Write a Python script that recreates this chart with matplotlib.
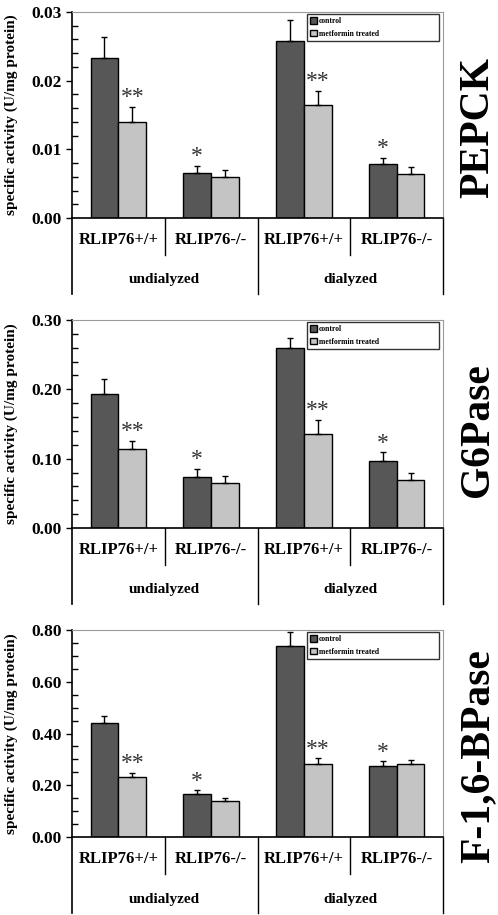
import numpy as np
import matplotlib
matplotlib.use("Agg")
import matplotlib.pyplot as plt
import matplotlib.transforms as mtransforms

plt.rcParams['font.family'] = ['Liberation Serif', 'DejaVu Serif']

# data
categories = ["RLIP76+/+", "RLIP76-/-", "RLIP76+/+", "RLIP76-/-"]
groups = ["undialyzed", "dialyzed"]
series = ["control", "metformin treated"]
enzymes = ["PEPCK", "G6Pase", "F-1,6-BPase"]

pepck_control = [0.0233, 0.0066, 0.0258, 0.0078]
pepck_control_err = [0.0030, 0.0010, 0.0030, 0.0010]
pepck_treated = [0.0140, 0.0059, 0.0164, 0.0064]
pepck_treated_err = [0.0022, 0.0011, 0.0021, 0.0011]

g6p_control = [0.193, 0.074, 0.260, 0.097]
g6p_control_err = [0.022, 0.011, 0.014, 0.012]
g6p_treated = [0.114, 0.065, 0.135, 0.069]
g6p_treated_err = [0.012, 0.010, 0.021, 0.011]

fbp_control = [0.439, 0.168, 0.738, 0.276]
fbp_control_err = [0.030, 0.013, 0.053, 0.017]
fbp_treated = [0.230, 0.140, 0.281, 0.284]
fbp_treated_err = [0.017, 0.010, 0.023, 0.012]

# significance marks: (bar series, category index, label)
stars = [(1, 0, "**"), (0, 1, "*"), (1, 2, "**"), (0, 3, "*")]

ymax = [0.03, 0.30, 0.80]
ymajor = [0.01, 0.10, 0.20]
yminor = [0.002, 0.02, 0.05]

panel_data = [
    (pepck_control, pepck_control_err, pepck_treated, pepck_treated_err),
    (g6p_control, g6p_control_err, g6p_treated, g6p_treated_err),
    (fbp_control, fbp_control_err, fbp_treated, fbp_treated_err),
]

W, H = 498, 915
fig = plt.figure(figsize=(W / 100, H / 100), dpi=100)

# axes boxes in pixels: top of plot, zero line
boxes = [(12, 218), (320, 528), (630, 837)]
x0, x1 = 72, 443
enzyme_y = [0.44, 0.47, 0.39]

col_ctrl = "#575757"
col_trt = "#c4c4c4"
bw = 0.3

for k, (ctl, ctl_e, trt, trt_e) in enumerate(panel_data):
    top, zero = boxes[k]
    ax = fig.add_axes([x0 / W, 1 - zero / H, (x1 - x0) / W, (zero - top) / H])
    x = np.arange(len(categories))
    ax.bar(x - bw / 2, ctl, bw, color=col_ctrl, edgecolor="black", linewidth=1,
           yerr=[np.zeros(4), ctl_e], capsize=2.5,
           error_kw=dict(elinewidth=1, capthick=1, ecolor="black"), label=series[0])
    ax.bar(x + bw / 2, trt, bw, color=col_trt, edgecolor="black", linewidth=1,
           yerr=[np.zeros(4), trt_e], capsize=2.5,
           error_kw=dict(elinewidth=1, capthick=1, ecolor="black"), label=series[1])

    for s, i, lab in stars:
        v = (ctl[i] + ctl_e[i]) if s == 0 else (trt[i] + trt_e[i])
        xo = i - bw / 2 if s == 0 else i + bw / 2
        ax.annotate(lab, (xo, v), xytext=(0, -1), textcoords="offset points",
                    ha="center", va="bottom", fontsize=17, color="#333333")

    ax.set_xlim(-0.5, 3.5)
    ax.set_ylim(0, ymax[k])
    ax.set_yticks(np.arange(0, ymax[k] + 1e-9, ymajor[k]))
    ax.set_yticks(np.arange(0, ymax[k] + 1e-9, yminor[k]), minor=True)
    ax.set_yticklabels(["%.2f" % v for v in np.arange(0, ymax[k] + 1e-9, ymajor[k])],
                       fontsize=12.5, fontweight="bold")
    ax.tick_params(axis="y", which="major", direction="out", length=4, width=1)
    ax.tick_params(axis="y", which="minor", direction="in", length=4, width=1)
    ax.set_xticks([])
    ax.spines["top"].set_color("#9a9a9a")
    ax.spines["right"].set_color("#9a9a9a")
    ax.spines["left"].set_linewidth(1.2)
    ax.spines["bottom"].set_linewidth(1.2)

    ax.set_ylabel("specific activity (U/mg protein)", fontsize=11, fontweight="bold")
    ax.yaxis.set_label_coords(-0.145, 0.5)

    # two-level category axis
    tr = mtransforms.blended_transform_factory(ax.transData, ax.transAxes)
    hpx = zero - top
    short = -37 / hpx
    long_ = -76 / hpx
    ax.plot([-0.5, -0.5], [0, long_], color="black", lw=1.2, transform=tr, clip_on=False)
    for xs in [0.5, 2.5]:
        ax.plot([xs, xs], [0, short], color="black", lw=1, transform=tr, clip_on=False)
    for xs in [1.5, 3.5]:
        ax.plot([xs, xs], [0, long_], color="black", lw=1, transform=tr, clip_on=False)
    for i, c in enumerate(categories):
        ax.text(i, -22 / hpx, c, transform=tr, ha="center", va="center",
                fontsize=12, fontweight="bold")
    for j, g in enumerate(groups):
        ax.text(2 * j + 0.5, -62 / hpx, g, transform=tr, ha="center", va="center",
                fontsize=11, fontweight="bold")

    leg = ax.legend(loc="upper left", bbox_to_anchor=(0.633, 0.796, 0.356, 0.194),
                    mode="expand", prop=dict(weight="bold", size=5.5),
                    frameon=True, fancybox=False, edgecolor="black",
                    handlelength=0.9, handleheight=0.9, handletextpad=0.3,
                    borderaxespad=0, labelspacing=0.6)
    leg.get_frame().set_linewidth(1)

    ax.text(1.095, enzyme_y[k], enzymes[k], transform=ax.transAxes,
            rotation=90, ha="center", va="center", fontsize=30, fontweight="bold")

fig.savefig("out.png", dpi=100)
